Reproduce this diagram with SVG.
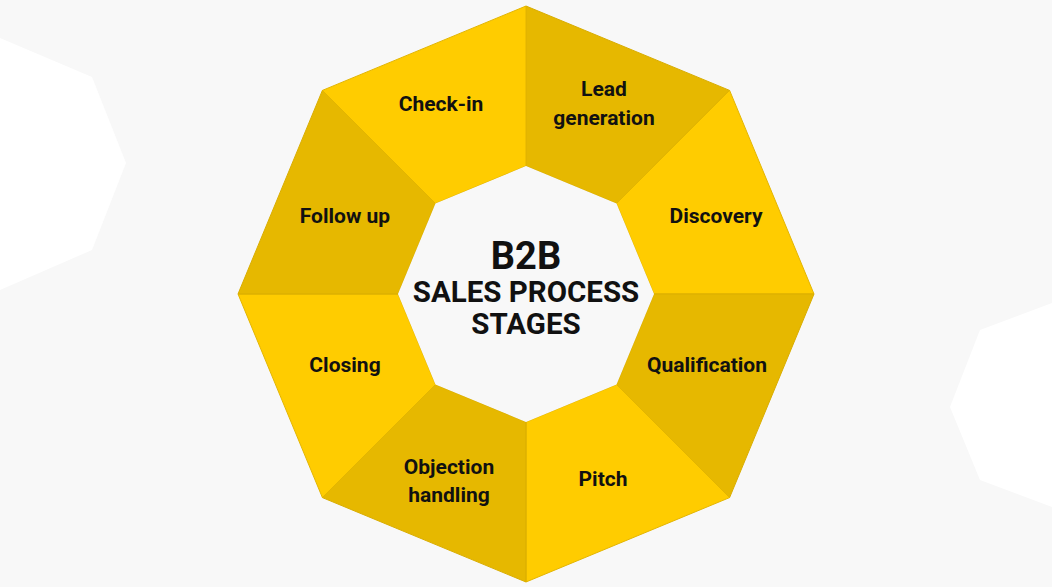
<svg xmlns="http://www.w3.org/2000/svg" width="1052" height="587" viewBox="0 0 1052 587">
<style>
.dark{fill:#E6B800;stroke:#D9AD00;stroke-width:1}
.light{fill:#FFCC00;stroke:#E3B500;stroke-width:1}
.lbl{font-family:Roboto,"Liberation Sans",sans-serif;font-weight:700;font-size:21px;fill:#111;text-anchor:middle}
.ttl{font-family:Roboto,"Liberation Sans",sans-serif;font-weight:700;fill:#111;text-anchor:middle}
</style>
<rect x="0" y="0" width="1052" height="587" fill="#F8F8F8"/>
<polygon points="0,38 92,77 126,163 92,250 0,290" fill="#FFFFFF"/>
<polygon points="1052,303 980,330 950,407 980,480 1052,507" fill="#FFFFFF"/>
<g id="connectors"></g>
<g id="lead-generation">
<polygon class="dark" points="526,6 729.6,90.4 616.5,203.5 526,166"/>
<text class="lbl" x="604" y="96">Lead</text>
<text class="lbl" x="604" y="125">generation</text>
</g>
<g id="discovery">
<polygon class="light" points="729.6,90.4 814,294 654,294 616.5,203.5"/>
<text class="lbl" x="716" y="223">Discovery</text>
</g>
<g id="qualification">
<polygon class="dark" points="814,294 729.6,497.6 616.5,384.5 654,294"/>
<text class="lbl" x="707" y="372">Qualification</text>
</g>
<g id="pitch">
<polygon class="light" points="729.6,497.6 526,582 526,422 616.5,384.5"/>
<text class="lbl" x="603" y="486">Pitch</text>
</g>
<g id="objection-handling">
<polygon class="dark" points="526,582 322.4,497.6 435.5,384.5 526,422"/>
<text class="lbl" x="449" y="474">Objection</text>
<text class="lbl" x="449" y="502">handling</text>
</g>
<g id="closing">
<polygon class="light" points="322.4,497.6 238,294 398,294 435.5,384.5"/>
<text class="lbl" x="345" y="372">Closing</text>
</g>
<g id="follow-up">
<polygon class="dark" points="238,294 322.4,90.4 435.5,203.5 398,294"/>
<text class="lbl" x="345" y="223">Follow up</text>
</g>
<g id="check-in">
<polygon class="light" points="322.4,90.4 526,6 526,166 435.5,203.5"/>
<text class="lbl" x="441" y="111">Check-in</text>
</g>
<g id="center">
<polygon points="526,166 616.5,203.5 654,294 616.5,384.5 526,422 435.5,384.5 398,294 435.5,203.5" fill="#F8F8F8"/>
<text class="ttl" x="526" y="269" font-size="38">B2B</text>
<text class="ttl" x="526" y="302" font-size="29.5">SALES PROCESS</text>
<text class="ttl" x="526" y="334" font-size="29.5">STAGES</text>
</g>
</svg>
